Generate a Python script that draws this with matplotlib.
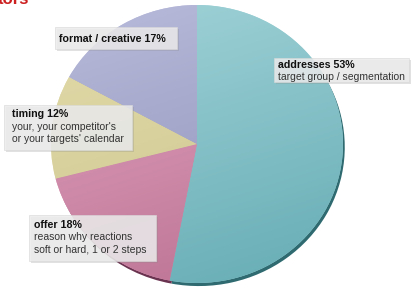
import matplotlib
matplotlib.use("Agg")
import matplotlib.pyplot as plt
import numpy as np
from matplotlib.colors import LinearSegmentedColormap
from matplotlib.patches import Rectangle

plt.rcParams['font.family'] = ['Liberation Sans', 'DejaVu Sans']

# data
labels = ["addresses", "offer", "timing", "format / creative"]
shares = [53, 18, 12, 17]
details = [["target group / segmentation"],
           ["reason why reactions", "soft or hard, 1 or 2 steps"],
           ["your, your competitor's", "or your targets' calendar"],
           []]

light = ['#a2d4d9', '#e2a6c0', '#e3dcab', '#babcdc']
dark = ['#66acb4', '#bb7092', '#cbc38c', '#8a8cb5']
rim = ['#2e6a70', '#6a3350', '#7a7450', '#55577a']

W, H = 412, 288
cx, cy, rx, ry = 197, 144, 146, 139
pad = 1.1

fig = plt.figure(figsize=(W / 100, H / 100), dpi=100)
ax = fig.add_axes([(cx - pad * rx) / W, (H - cy - pad * ry) / H,
                   2 * pad * rx / W, 2 * pad * ry / H])

# dark rim under the pie (3d edge)
ax.pie(shares, colors=rim, startangle=90, counterclock=False,
       center=(0.012, -0.022), wedgeprops=dict(linewidth=0))
wedges, _ = ax.pie(shares, colors=light, startangle=90, counterclock=False,
                   wedgeprops=dict(linewidth=0))

xx, yy = np.meshgrid(np.linspace(-1, 1, 200), np.linspace(1, -1, 200))
grad = 0.25 * xx - 0.75 * yy
grad = (grad - grad.min()) / (grad.max() - grad.min())
for w, c1, c2 in zip(wedges, light, dark):
    cm = LinearSegmentedColormap.from_list('g', [c1, c2])
    im = ax.imshow(grad, extent=(-1, 1, -1, 1), cmap=cm, zorder=2)
    im.set_clip_path(w)

ax.set_aspect('auto')
ax.set_xlim(-pad, pad)
ax.set_ylim(-pad, pad)
ax.axis('off')

# overlay in pixel coordinates for the labels
tx = fig.add_axes([0, 0, 1, 1], facecolor='none')
tx.set_xlim(0, W)
tx.set_ylim(H, 0)
tx.axis('off')

# box (x0, y0, x1, y1), text x, first line y, line step
boxes = [(274, 58, 409, 82, 278, 65, 11.5),
         (29, 215, 156, 261, 34, 225, 12.5),
         (4, 105, 132, 150, 12, 114, 12.5),
         (55, 27, 177, 49, 59, 39, 12)]

for lab, sh, det, b in zip(labels, shares, details, boxes):
    x0, y0, x1, y1, tx0, ty0, step = b
    tx.add_patch(Rectangle((x0 + 2, y0 + 2), x1 - x0, y1 - y0,
                           facecolor='#888888', alpha=0.25, linewidth=0))
    tx.add_patch(Rectangle((x0, y0), x1 - x0, y1 - y0,
                           facecolor='#ececec', alpha=0.85,
                           edgecolor='#d8d8d8', linewidth=0.5))
    tx.text(tx0, ty0, f"{lab} {sh}%", fontsize=7.7, fontweight='bold',
            color='#111111', va='center', ha='left')
    for i, line in enumerate(det):
        tx.text(tx0, ty0 + step * (i + 1), line, fontsize=7.5,
                color='#333333', va='center', ha='left')

# red heading cut off at the top edge
tx.text(-2, 4, "tors", fontsize=12, fontweight='bold', color='#cc2020',
        va='baseline', ha='left')

fig.savefig("out.png", dpi=100)
